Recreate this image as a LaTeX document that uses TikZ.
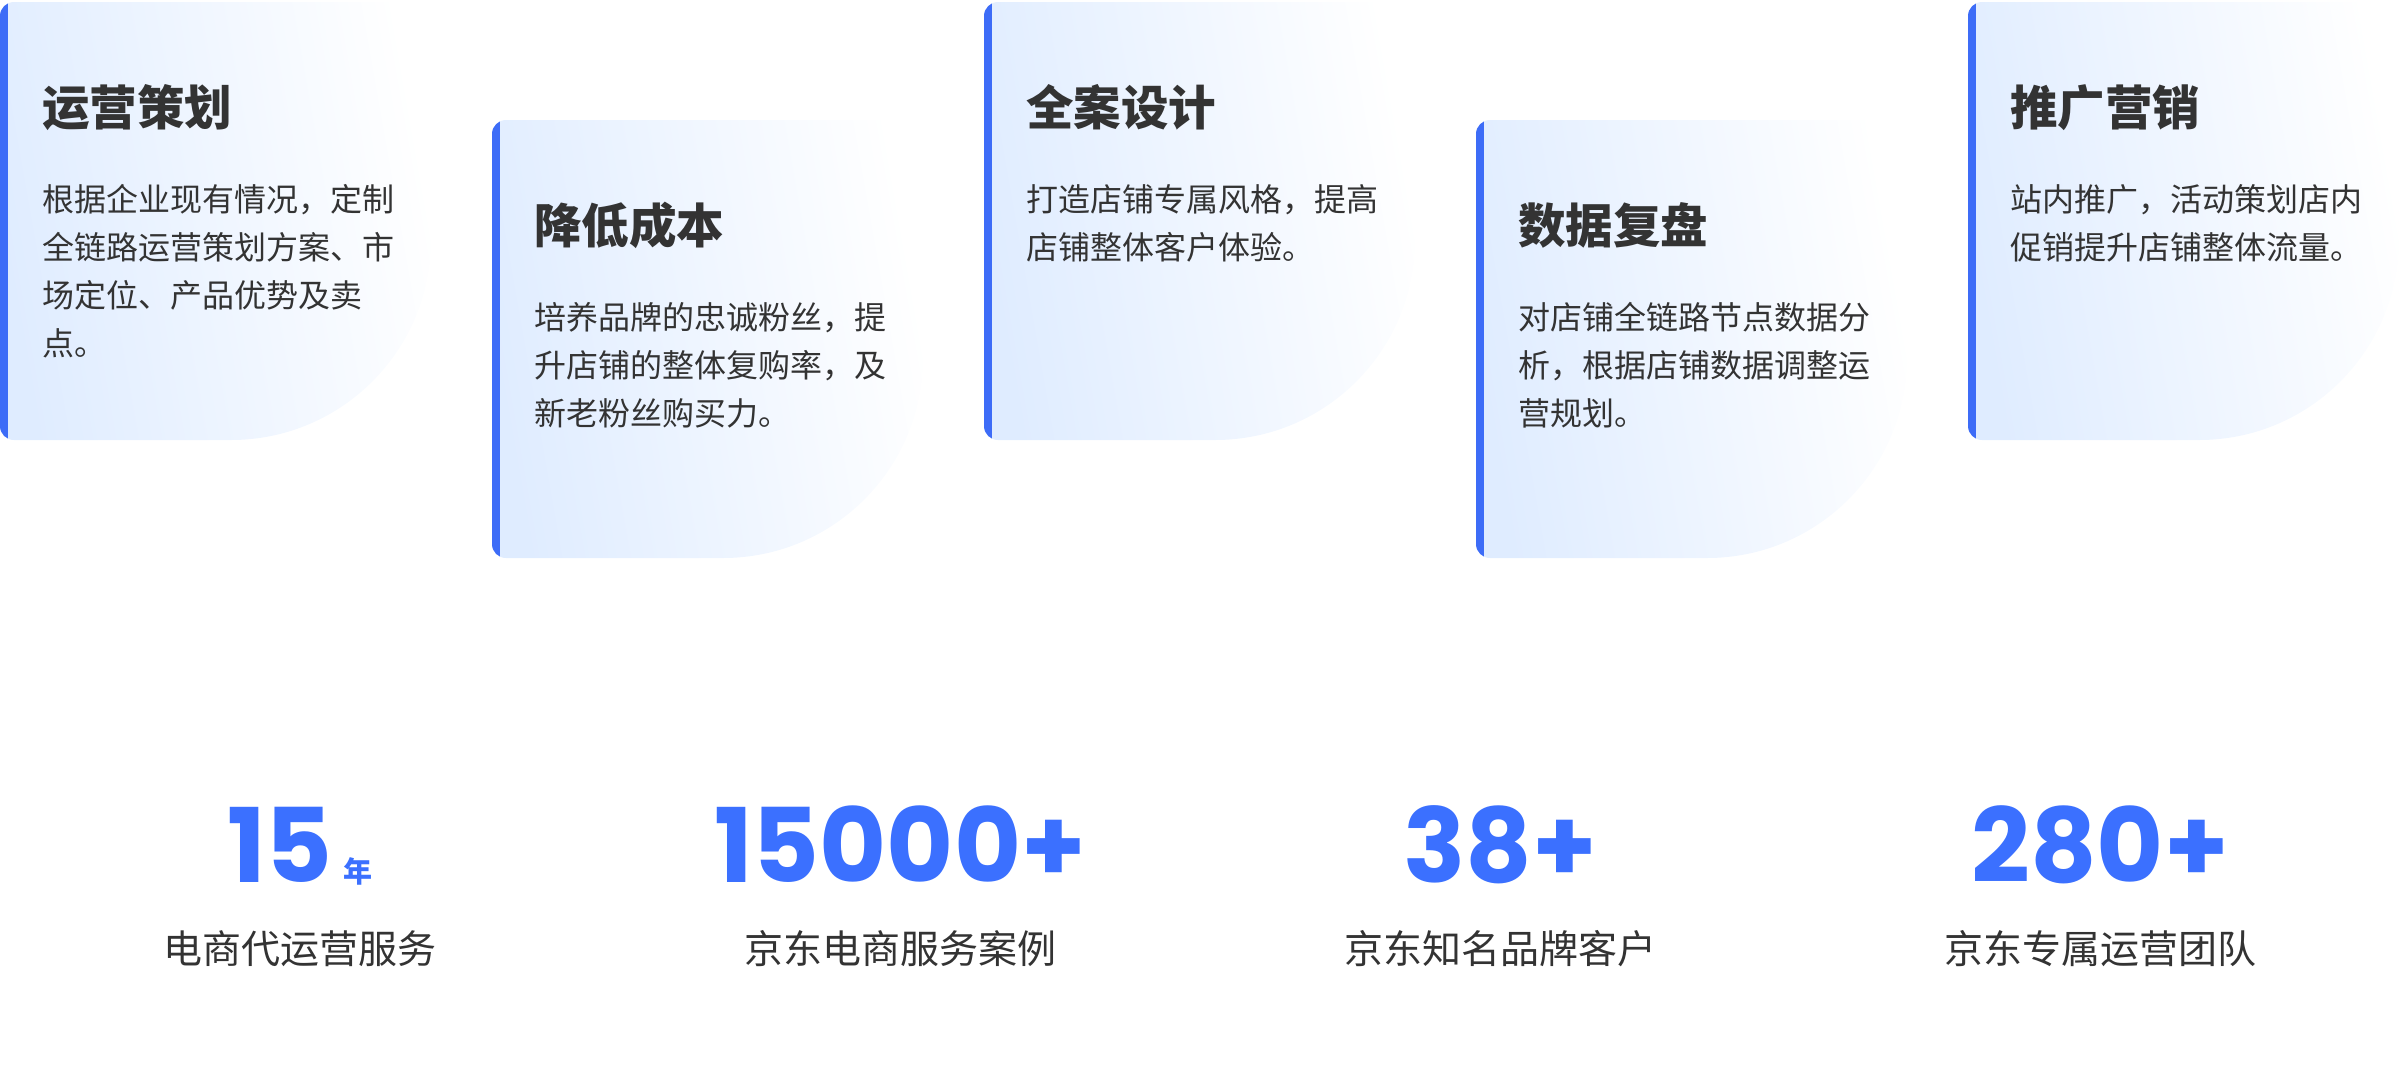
\documentclass[tikz,border=0pt]{standalone}
\usepackage{fontspec}
\newfontfamily\cjk{Noto Sans CJK SC}
\newfontfamily\numfont{Poppins}
\definecolor{jdblue}{HTML}{3B70FF}
\definecolor{barblue}{HTML}{3D6CF7}
\definecolor{cardblue}{HTML}{DFECFF}
\definecolor{textgray}{HTML}{333333}

\begin{document}
\begin{tikzpicture}[x=1pt,y=1pt,
    card/.style={left color=cardblue,right color=white,shading angle=100,
        path picture={\fill[barblue] (path picture bounding box.north west) rectangle ([xshift=8pt]path picture bounding box.south west);}},
    cardtitle/.style={anchor=base west,inner sep=0,text=textgray,font=\cjk\bfseries\fontsize{47.5}{47.5}\selectfont},
    cardtext/.style={anchor=north west,inner sep=0,align=left,text=textgray,font=\cjk\fontsize{32}{48}\selectfont},
    statnum/.style={anchor=base,inner sep=0,text=jdblue,font=\numfont\bfseries\fontsize{103}{103}\selectfont},
    statlabel/.style={anchor=base,inner sep=0,text=textgray,font=\cjk\fontsize{39}{39}\selectfont}]
    \useasboundingbox (0,0) rectangle (2400,-1080);

    % cards: left edge / top edge / title / text
    \foreach \cx/\cy/\ttl/\txt [count=\i] in {
        0/2/运营策划/{根据企业现有情况，定制\\全链路运营策划方案、市\\场定位、产品优势及卖\\点。},
        492/120/降低成本/{培养品牌的忠诚粉丝，提\\升店铺的整体复购率，及\\新老粉丝购买力。},
        984/2/全案设计/{打造店铺专属风格，提高\\店铺整体客户体验。},
        1476/120/数据复盘/{对店铺全链路节点数据分\\析，根据店铺数据调整运\\营规划。},
        1968/2/推广营销/{站内推广，活动策划店内\\促销提升店铺整体流量。}}
    {
        \path[card] (\cx,-\cy-14) arc[start angle=180,end angle=90,radius=14]
            -- (\cx+411,-\cy) arc[start angle=90,end angle=0,radius=20]
            -- (\cx+431,-\cy-438+200) arc[start angle=0,end angle=-90,radius=200]
            -- (\cx+14,-\cy-438) arc[start angle=-90,end angle=-180,radius=14] -- cycle;
        \node[cardtitle] (t\i) at (\cx+42,-\cy-123) {\ttl};
        \node[cardtext] (b\i) at (\cx+42,-\cy-182) {\txt};
    }

    % figures
    \foreach \sx/\num/\lbl [count=\i] in {
        300/{15\hspace{11pt}{\cjk\fontsize{29}{29}\selectfont 年}}/电商代运营服务,
        900/15000+/京东电商服务案例,
        1500/38+/京东知名品牌客户,
        2100/280+/京东专属运营团队}
    {
        \node[statnum] (n\i) at (\sx,-882) {\num};
        \node[statlabel] (l\i) at (\sx,-963) {\lbl};
    }
\end{tikzpicture}
\end{document}
